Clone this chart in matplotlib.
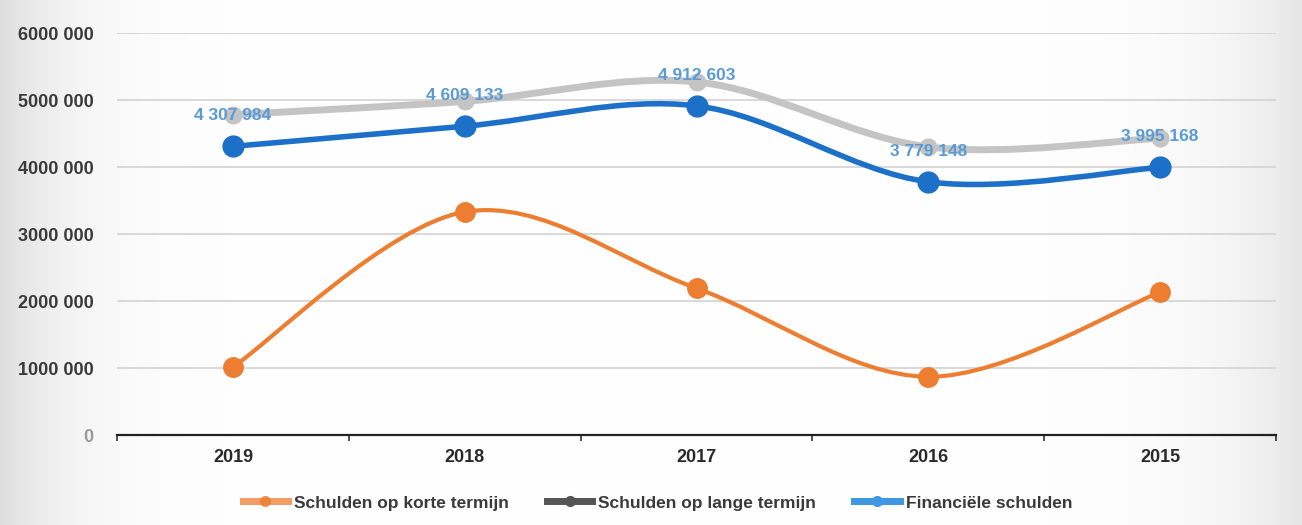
import numpy as np
import matplotlib.pyplot as plt
from matplotlib.path import Path
from matplotlib.patches import PathPatch
from matplotlib.lines import Line2D

years = ["2019", "2018", "2017", "2016", "2015"]
korte_termijn = [1015000, 3330000, 2190000, 870000, 2130000]
lange_termijn = [4780000, 4980000, 5270000, 4300000, 4430000]
financiele = [4307984, 4609133, 4912603, 3779148, 3995168]
financiele_labels = ["4 307 984", "4 609 133", "4 912 603", "3 779 148", "3 995 168"]
yticks = [0, 1000000, 2000000, 3000000, 4000000, 5000000, 6000000]
ytick_labels = ["0", "1000 000", "2000 000", "3000 000", "4000 000", "5000 000", "6000 000"]

ORANGE = "#ED7D31"
GRAY = "#C4C4C4"
GRAY_DARK = "#555555"
BLUE = "#1C70C8"
LABEL_BLUE = "#5B9BD5"

plt.rcParams["font.family"] = ["Liberation Sans", "DejaVu Sans"]


def smooth_path(xs, ys):
    # bezier segments through every point, like a spreadsheet "smoothed line"
    pts = np.column_stack([xs, ys]).astype(float)
    ext = np.vstack([pts[0], pts, pts[-1]])
    verts = [pts[0]]
    codes = [Path.MOVETO]
    for i in range(1, len(ext) - 2):
        p0, p1, p2, p3 = ext[i - 1], ext[i], ext[i + 1], ext[i + 2]
        c1 = p1 + (p2 - p0) / 6.0
        c2 = p2 - (p3 - p1) / 6.0
        verts += [c1, c2, p2]
        codes += [Path.CURVE4] * 3
    return Path(verts, codes)


fig = plt.figure(figsize=(13.02, 5.25), dpi=100)

# paper shading around the edges
bg = fig.add_axes([0, 0, 1, 1], zorder=-5)
gx = np.linspace(0, 1, 400)
shade = 1 - 0.13 * np.exp(-gx / 0.05) - 0.10 * np.exp(-(1 - gx) / 0.06)
shade = np.clip(shade, 0, 1)
img = np.tile(shade, (50, 1))
bg.imshow(np.dstack([img, img, img]), aspect="auto", extent=[0, 1, 0, 1])
bg.axis("off")

ax = fig.add_axes([0.0899, 0.1714, 0.8901, 0.7657])
ax.patch.set_alpha(0)
x = np.arange(len(years))

for vals, color, lw, ms, z in [
    (lange_termijn, GRAY, 5, 12, 2),
    (korte_termijn, ORANGE, 3, 14, 3),
    (financiele, BLUE, 4, 15, 4),
]:
    ax.add_patch(PathPatch(smooth_path(x, vals), fill=False, edgecolor=color,
                           lw=lw, zorder=z, capstyle="round"))
    ax.plot(x, vals, linestyle="none", marker="o", ms=ms, color=color, zorder=z)

for xi, v, lab in zip(x, financiele, financiele_labels):
    ax.annotate(lab, (xi, v), xytext=(0, 22), textcoords="offset points",
                ha="center", va="center", fontsize=12.5, fontweight="bold",
                color=LABEL_BLUE, zorder=6)

ax.set_xlim(-0.5, len(years) - 0.5)
ax.set_ylim(0, 6000000)
ax.set_yticks(yticks)
ax.set_yticklabels(ytick_labels)
ax.set_xticks(x)
ax.set_xticklabels(years)
ax.set_xticks(np.arange(-0.5, len(years)), minor=True)
ax.tick_params(axis="y", length=0, pad=17, labelsize=13, labelcolor="#3a3a3a")
ax.tick_params(axis="x", which="major", length=0, pad=10, labelsize=13, labelcolor="#2a2a2a")
ax.tick_params(axis="x", which="minor", length=4, width=1.2, color="#333333")
for lab in ax.get_yticklabels() + ax.get_xticklabels():
    lab.set_fontweight("bold")
ax.get_yticklabels()[0].set_color("#9a9a9a")

ax.grid(axis="y", color="#D6D6D6", lw=1.3)
ax.set_axisbelow(True)
for s in ["top", "right", "left"]:
    ax.spines[s].set_visible(False)
ax.spines["bottom"].set_color("#222222")
ax.spines["bottom"].set_linewidth(1.6)

handles = [
    Line2D([], [], color=ORANGE, lw=5, marker="o", ms=7, alpha=0.75),
    Line2D([], [], color=GRAY_DARK, lw=5, marker="o", ms=7),
    Line2D([], [], color="#3E97E0", lw=5, marker="o", ms=7),
]
names = ["Schulden op korte termijn", "Schulden op lange termijn", "Financiële schulden"]
leg = fig.legend(handles, names, loc="center", bbox_to_anchor=(0.505, 0.042),
                 ncol=3, frameon=False, fontsize=12.5, handlelength=2.6,
                 handletextpad=0.35, columnspacing=2.2)
for t in leg.get_texts():
    t.set_fontweight("bold")
    t.set_color("#3a3a3a")

fig.savefig("out.png", dpi=100)
